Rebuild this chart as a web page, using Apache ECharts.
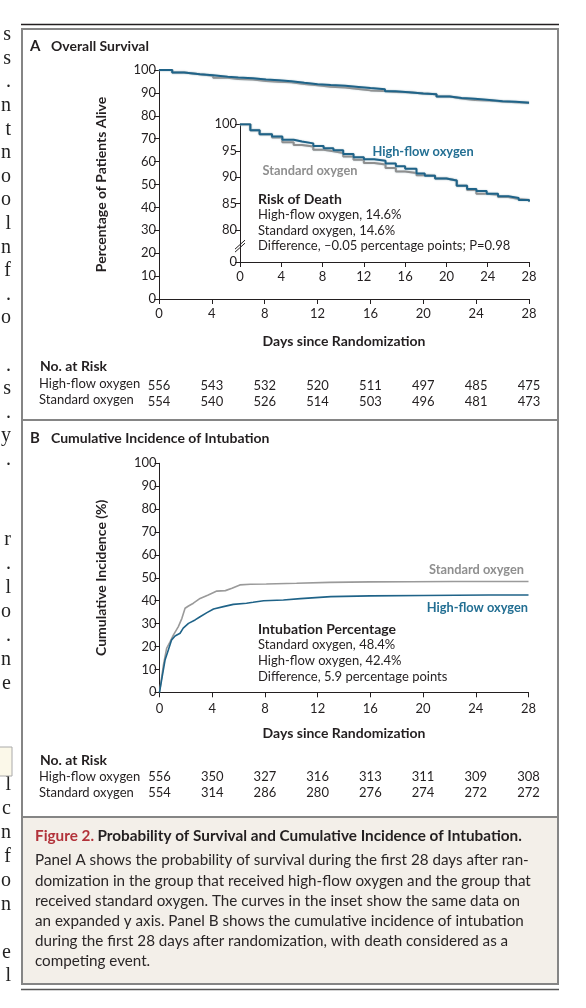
<!DOCTYPE html>
<html>
<head>
<meta charset="utf-8">
<title>Figure 2</title>
<script src="https://cdn.jsdelivr.net/npm/echarts@6/dist/echarts.min.js"></script>
<style>
html, body { margin: 0; padding: 0; background: #fff; }
#chart { width: 586px; height: 1008px; }
</style>
</head>
<body>
<div id="chart"></div>
<script>
// ---- data ----
var dayTicks = [0, 4, 8, 12, 16, 20, 24, 28];

// Panel A: Kaplan-Meier survival (%)
var survivalDays = [0, 1, 1.9, 3.1, 4.1, 5.2, 6, 7.1, 8.1, 9.05, 10, 11, 12, 13, 14.1, 15.1, 16, 17.1, 17.9, 18.9, 20, 21, 22, 22.9, 23.9, 25, 26, 27, 28];
var survivalHighFlow = [100, 98.9, 98.1, 97.7, 97.1, 96.75, 96.4, 95.9, 95.5, 95.1, 94.4, 93.8, 93.4, 93.1, 92.6, 92.1, 91.6, 90.7, 90.3, 89.75, 89.4, 88.4, 87.8, 87.4, 86.9, 86.4, 86.1, 85.7, 85.4];
var survivalStandard = [100, 98.9, 98.1, 97.5, 96.6, 96.1, 95.8, 95.2, 94.9, 94.6, 93.9, 93.3, 92.7, 92.4, 91.75, 91.1, 90.8, 90.4, 90.3, 89.75, 89.4, 88.4, 87.6, 86.9, 86.7, 86.25, 85.9, 85.7, 85.4];
var riskA_highFlow = [556, 543, 532, 520, 511, 497, 485, 475];
var riskA_standard = [554, 540, 526, 514, 503, 496, 481, 473];
var insetYTicks = [80, 85, 90, 95, 100];

// Panel B: cumulative incidence of intubation (%)
var intubDaysHighFlow = [0, 0.42, 0.67, 0.92, 1.18, 1.56, 1.8, 2.2, 2.7, 3.08, 3.6, 4.1, 4.85, 5.6, 6.6, 7.1, 7.9, 9.4, 10.7, 13, 16, 20, 25, 28];
var intubHighFlow = [0, 14.1, 18.5, 22.9, 24.6, 25.8, 28, 30.1, 31.6, 33, 34.8, 36.4, 37.4, 38.4, 38.9, 39.3, 40.0, 40.3, 40.9, 41.8, 42.1, 42.3, 42.5, 42.5];
var intubDaysStandard = [0, 0.3, 0.54, 0.8, 1.05, 1.43, 1.7, 1.94, 2.2, 2.57, 3.08, 3.7, 4.35, 5, 5.5, 6.1, 6.9, 8.1, 10.4, 12.9, 16, 19, 22.3, 28];
var intubStandard = [0, 12, 19.2, 22, 25, 28.7, 32.3, 36.7, 37.7, 38.9, 41, 42.5, 44.2, 44.4, 45.4, 46.9, 47.2, 47.3, 47.6, 48.0, 48.2, 48.3, 48.4, 48.4];
var riskB_highFlow = [556, 350, 327, 316, 313, 311, 309, 308];
var riskB_standard = [554, 314, 286, 280, 276, 274, 272, 272];

// ---- styles ----
var FONT = 'Lato, "Open Sans", sans-serif';
var INK = '#231f20';
var BLUE = '#1f6388';
var GRAY = '#8f8f8f';
var FRAME = '#858585';
var FS = 13;

function pairs(xs, ys) {
  return xs.map(function (x, i) { return [x, ys[i]]; });
}

function dayAxis(grid, opts) {
  var ax = {
    type: 'value', gridIndex: grid, min: 0, max: 28, interval: 4,
    splitLine: { show: false },
    axisLine: { lineStyle: { color: INK, width: 1 } },
    axisTick: { length: 5, lineStyle: { color: INK } },
    axisLabel: { color: INK, fontFamily: FONT, fontSize: FS, margin: 8.5 }
  };
  return Object.assign(ax, opts || {});
}

function riskAxis(grid, offset, values) {
  return {
    type: 'value', gridIndex: grid, min: 0, max: 28, interval: 4,
    position: 'bottom', offset: offset,
    splitLine: { show: false }, axisLine: { show: false }, axisTick: { show: false },
    axisLabel: {
      color: INK, fontFamily: FONT, fontSize: FS, margin: 8,
      formatter: function (v) { return values[dayTicks.indexOf(v)]; }
    }
  };
}

function pctAxis(grid, opts) {
  var ax = {
    type: 'value', gridIndex: grid, min: 0, max: 100, interval: 10,
    splitLine: { show: false },
    axisLine: { show: true, lineStyle: { color: INK, width: 1 } },
    axisTick: { show: true, length: 5, lineStyle: { color: INK } },
    axisLabel: { color: INK, fontFamily: FONT, fontSize: FS, margin: 3 }
  };
  return Object.assign(ax, opts || {});
}

var boldName = { color: INK, fontFamily: FONT, fontSize: 14, fontWeight: 'bold' };

function curve(name, data, xi, yi, color, step, width) {
  return {
    name: name, type: 'line', xAxisIndex: xi, yAxisIndex: yi,
    data: data, step: step, symbol: 'none', silent: true,
    lineStyle: { color: color, width: width, shadowColor: 'rgba(170,190,200,0.9)', shadowBlur: step ? 1.5 : 0 }
  };
}

function label(text, x, y, opts) {
  return {
    type: 'text', silent: true,
    style: Object.assign({
      text: text, x: x, y: y, fill: INK, font: FS + 'px ' + FONT,
      align: 'left', verticalAlign: 'middle'
    }, opts || {})
  };
}
function bold(size) { return 'bold ' + size + 'px ' + FONT; }

// left-edge fragments of the neighbouring text column
var marginTop = ['s', 's', '.', 'n', 't', 'n', 'o', 'o', 'l', 'n', 'f', '.', 'o', '', '.', 's', '.', 'y', '.'];
var marginMid = ['r', '.', 'l', 'o', '.', 'n', 'e'];
var marginBot = ['l', 'c', 'n', 'f', 'o', 'n', '', 'e', 'l'];

var graphics = [];
function addMargin(list, y0, step) {
  list.forEach(function (c, i) {
    if (c) graphics.push(label(c, 11, y0 + i * step, { align: 'right', font: '20px "Liberation Serif", "DejaVu Serif", serif', fill: '#222' }));
  });
}
addMargin(marginTop, 35, 23.6);
addMargin(marginMid, 540, 24);
addMargin(marginBot, 785, 23.9);
graphics.push({ type: 'rect', silent: true, shape: { x: -2, y: 747, width: 14, height: 29 }, style: { fill: '#fbf8e9', stroke: '#aaa', lineWidth: 1 } });

// frames
graphics.push({ type: 'line', silent: true, shape: { x1: 21, y1: 24.5, x2: 559, y2: 24.5 }, style: { stroke: INK, lineWidth: 1.5 } });
graphics.push({ type: 'rect', silent: true, z: -1, shape: { x: 22, y: 817, width: 536, height: 167 }, style: { fill: '#f3efe9' } });
graphics.push({ type: 'rect', silent: true, shape: { x: 22, y: 29, width: 536, height: 955 }, style: { fill: 'none', stroke: FRAME, lineWidth: 2 } });
graphics.push({ type: 'line', silent: true, shape: { x1: 22, y1: 420, x2: 558, y2: 420 }, style: { stroke: FRAME, lineWidth: 2 } });
graphics.push({ type: 'line', silent: true, shape: { x1: 22, y1: 817, x2: 558, y2: 817 }, style: { stroke: FRAME, lineWidth: 2 } });
graphics.push({ type: 'line', silent: true, shape: { x1: 21, y1: 989.5, x2: 559, y2: 989.5 }, style: { stroke: '#555', lineWidth: 1.5 } });

// panel A texts
graphics.push(label('A', 30, 46.5, { font: bold(15) }));
graphics.push(label('Overall Survival', 51, 46.5, { font: bold(14) }));
graphics.push(label('High-flow oxygen', 423, 152, { align: 'center', font: bold(12.8), fill: '#236f93' }));
graphics.push(label('Standard oxygen', 310, 171, { align: 'center', font: bold(12.8), fill: GRAY }));
graphics.push(label('Risk of Death', 258, 199, { font: bold(14) }));
graphics.push(label('High-flow oxygen, 14.6%', 258, 215));
graphics.push(label('Standard oxygen, 14.6%', 258, 230.7));
graphics.push(label('Difference, \u20130.05 percentage points; P=0.98', 258, 246.3));
graphics.push(label('No. at Risk', 40, 366.5, { font: bold(14) }));
graphics.push(label('High-flow oxygen', 39, 384));
graphics.push(label('Standard oxygen', 39, 399.5));

// panel B texts
graphics.push(label('B', 30, 438, { font: bold(15) }));
graphics.push(label('Cumulative Incidence of Intubation', 51, 438, { font: bold(14) }));
graphics.push(label('Standard oxygen', 524, 570, { align: 'right', font: bold(12.8), fill: GRAY }));
graphics.push(label('High-flow oxygen', 528, 608, { align: 'right', font: bold(12.8), fill: '#236f93' }));
graphics.push(label('Intubation Percentage', 258, 629.5, { font: bold(14) }));
graphics.push(label('Standard oxygen, 48.4%', 258, 645.3));
graphics.push(label('High-flow oxygen, 42.4%', 258, 661));
graphics.push(label('Difference, 5.9 percentage points', 258, 676.7));
graphics.push(label('No. at Risk', 40, 760, { font: bold(14) }));
graphics.push(label('High-flow oxygen', 39, 777));
graphics.push(label('Standard oxygen', 39, 793));

// caption
graphics.push({
  type: 'text', silent: true,
  style: {
    x: 35, y: 836, verticalAlign: 'middle',
    text: '{r|Figure 2.} {b|Probability of Survival and Cumulative Incidence of Intubation.}',
    rich: {
      r: { fill: '#b2323a', font: bold(15.3) },
      b: { fill: INK, font: bold(15.3) }
    }
  }
});
graphics.push(label([
  'Panel A shows the probability of survival during the first 28 days after ran-',
  'domization in the group that received high-flow oxygen and the group that',
  'received standard oxygen. The curves in the inset show the same data on',
  'an expanded y axis. Panel B shows the cumulative incidence of intubation',
  'during the first 28 days after randomization, with death considered as a',
  'competing event.'
].join('\n'), 35, 850.5, { font: '15.2px ' + FONT, lineHeight: 20.2, verticalAlign: 'top', fill: '#2a2627' }));

var option = {
  backgroundColor: '#fff',
  animation: false,
  grid: [
    { left: 159, top: 70, width: 370, height: 229 },
    { left: 240, top: 124.3, width: 289, height: 137.7 },
    { left: 159.5, top: 463.3, width: 369, height: 229 }
  ],
  xAxis: [
    dayAxis(0, { name: 'Days since Randomization', nameLocation: 'middle', nameGap: 35, nameTextStyle: boldName }),
    riskAxis(0, 72.5, riskA_highFlow),
    riskAxis(0, 88, riskA_standard),
    dayAxis(1, { axisLabel: { color: INK, fontFamily: FONT, fontSize: FS, margin: 8 } }),
    dayAxis(2, { name: 'Days since Randomization', nameLocation: 'middle', nameGap: 34, nameTextStyle: boldName, axisLabel: { color: INK, fontFamily: FONT, fontSize: FS, margin: 10 } }),
    riskAxis(2, 70.5, riskB_highFlow),
    riskAxis(2, 86.5, riskB_standard)
  ],
  yAxis: [
    pctAxis(0, { name: 'Percentage of Patients Alive', nameLocation: 'middle', nameGap: 51, nameTextStyle: boldName }),
    pctAxis(1, {
      min: 74, max: 100, interval: null,
      axisLabel: {
        color: INK, fontFamily: FONT, fontSize: FS, margin: 3,
        customValues: [74].concat(insetYTicks),
        formatter: function (v) { return v < insetYTicks[0] ? '0' : String(v); }
      },
      axisTick: { show: true, length: 5, lineStyle: { color: INK }, customValues: [74].concat(insetYTicks) }
    }),
    pctAxis(2, { name: 'Cumulative Incidence (%)', nameLocation: 'middle', nameGap: 51, nameTextStyle: boldName })
  ],
  series: [
    curve('Standard oxygen', pairs(survivalDays, survivalStandard), 0, 0, GRAY, 'end', 2),
    curve('High-flow oxygen', pairs(survivalDays, survivalHighFlow), 0, 0, BLUE, 'end', 2),
    curve('Standard oxygen', pairs(survivalDays, survivalStandard), 3, 1, GRAY, 'end', 2),
    curve('High-flow oxygen', pairs(survivalDays, survivalHighFlow), 3, 1, BLUE, 'end', 2),
    curve('Standard oxygen', pairs(intubDaysStandard, intubStandard), 4, 2, '#9a9a9a', false, 1.6),
    curve('High-flow oxygen', pairs(intubDaysHighFlow, intubHighFlow), 4, 2, BLUE, false, 1.6)
  ],
  graphic: graphics
};

var chart = echarts.init(document.getElementById('chart'), null, { renderer: 'canvas' });
chart.setOption(option);

// axis-break mark on the inset y axis, placed through the inset scale
var brk = chart.convertToPixel({ xAxisIndex: 3, yAxisIndex: 1 }, [0, 77]);
graphics.push({ type: 'rect', silent: true, shape: { x: brk[0] - 2, y: brk[1] - 3, width: 4, height: 6 }, style: { fill: '#fff' } });
graphics.push({ type: 'line', silent: true, shape: { x1: brk[0] - 5, y1: brk[1] + 3, x2: brk[0] + 5, y2: brk[1] - 6 }, style: { stroke: INK, lineWidth: 1 } });
graphics.push({ type: 'line', silent: true, shape: { x1: brk[0] - 5, y1: brk[1] + 6, x2: brk[0] + 5, y2: brk[1] - 3 }, style: { stroke: INK, lineWidth: 1 } });
chart.setOption({ graphic: graphics });
</script>
</body>
</html>
